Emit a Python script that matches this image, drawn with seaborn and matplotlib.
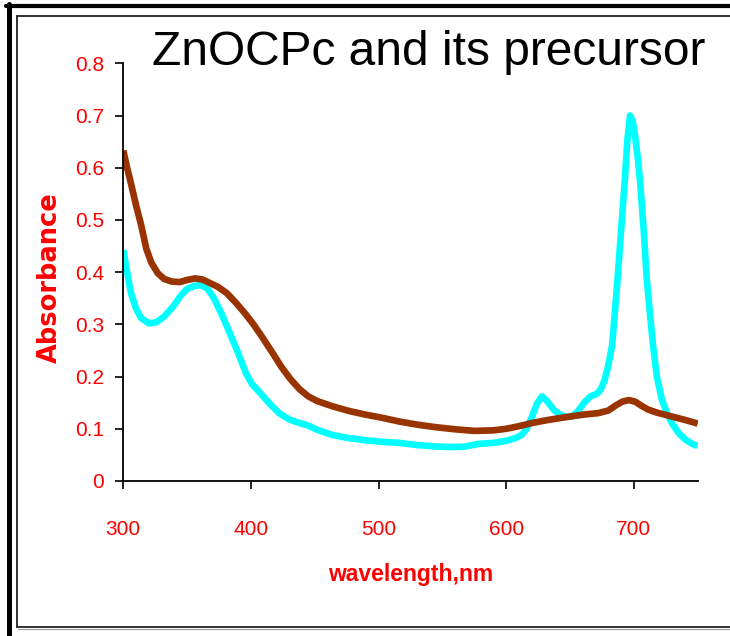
import numpy as np
import pandas as pd
import matplotlib
matplotlib.use('Agg')
import matplotlib.pyplot as plt
from matplotlib.lines import Line2D
import seaborn as sns

sns.set_style('white')
plt.rcParams['font.family'] = ['Liberation Sans', 'DejaVu Sans']

#~~~~~~~~~~~~~~~~~~~~~~~~~~~~~~~~~~~~~~~~~~#
### Data.
#~~~~~~~~~~~~~~~~~~~~~~~~~~~~~~~~~~~~~~~~~~#

## ZnOCPc (cyan).
zn_wl = [300, 303, 306, 310, 314, 320, 326, 332, 339, 345, 350, 356, 361, 366, 371, 377,
         384, 390, 396, 401, 406, 414, 422, 430, 438, 445, 452, 464, 477, 490, 503, 516,
         530, 545, 558, 568, 578, 590, 600, 607, 612, 616, 620, 624, 628, 632, 637, 642,
         647, 651, 656, 661, 666, 671, 674, 677, 680, 683, 687, 690, 693, 695, 697, 699,
         701, 703, 705, 708, 710, 713, 715, 718, 722, 726, 730, 735, 740, 745, 750]
zn_abs = [0.442, 0.40, 0.36, 0.33, 0.312, 0.302, 0.304, 0.315, 0.334, 0.355, 0.368, 0.374, 0.375, 0.368, 0.35, 0.32,
          0.28, 0.245, 0.207, 0.185, 0.172, 0.15, 0.13, 0.118, 0.111, 0.106, 0.098, 0.088, 0.082, 0.078, 0.075, 0.073,
          0.069, 0.066, 0.065, 0.066, 0.071, 0.073, 0.077, 0.082, 0.088, 0.100, 0.122, 0.148, 0.162, 0.153, 0.137, 0.127,
          0.123, 0.123, 0.133, 0.150, 0.162, 0.167, 0.175, 0.193, 0.222, 0.26, 0.38, 0.48, 0.58, 0.655, 0.70, 0.69,
          0.66, 0.62, 0.57, 0.47, 0.39, 0.31, 0.26, 0.20, 0.155, 0.13, 0.11, 0.092, 0.08, 0.072, 0.067]

## Precursor (brown).
pre_wl = [300, 303, 306, 310, 314, 318, 322, 327, 332, 338, 344, 350, 356, 362, 368, 374,
          381, 388, 395, 402, 409, 417, 424, 431, 438, 445, 452, 464, 477, 490, 503, 516,
          530, 545, 560, 575, 590, 600, 610, 620, 633, 646, 660, 672, 680, 686, 691, 696,
          701, 706, 711, 718, 729, 740, 750]
pre_abs = [0.633, 0.60, 0.57, 0.528, 0.49, 0.445, 0.418, 0.398, 0.387, 0.382, 0.381, 0.385, 0.388, 0.386, 0.379, 0.372,
           0.36, 0.342, 0.322, 0.30, 0.275, 0.245, 0.218, 0.195, 0.176, 0.162, 0.153, 0.143, 0.134, 0.127, 0.121, 0.114,
           0.108, 0.103, 0.099, 0.096, 0.097, 0.100, 0.105, 0.111, 0.117, 0.122, 0.127, 0.130, 0.135, 0.145, 0.152, 0.155,
           0.152, 0.144, 0.137, 0.131, 0.124, 0.117, 0.110]

samples = ['ZnOCPc', 'precursor']
palette = {'ZnOCPc': '#00FFFF', 'precursor': '#993300'}

xticks = [300, 400, 500, 600, 700]
yticks = [0, 0.1, 0.2, 0.3, 0.4, 0.5, 0.6, 0.7, 0.8]
ytick_labels = ['0', '0.1', '0.2', '0.3', '0.4', '0.5', '0.6', '0.7', '0.8']

df = pd.concat([pd.DataFrame({'wavelength': zn_wl, 'absorbance': zn_abs, 'sample': 'ZnOCPc'}),
                pd.DataFrame({'wavelength': pre_wl, 'absorbance': pre_abs, 'sample': 'precursor'})],
               ignore_index=True)

red = '#FF0000'

#~~~~~~~~~~~~~~~~~~~~~~~~~~~~~~~~~~~~~~~~~~#
### Canvas.
#~~~~~~~~~~~~~~~~~~~~~~~~~~~~~~~~~~~~~~~~~~#

fig = plt.figure(figsize=(7.3, 6.36), dpi=100)
W, H = 730., 636.
ax = fig.add_axes([123.3/W, 1-481/H, (697.7-123.3)/W, (481-63.3)/H])

## Spectra.
sns.lineplot(data=df, x='wavelength', y='absorbance', hue='sample', hue_order=samples,
             palette=palette, lw=4.8, legend=False, sort=False, estimator=None, ax=ax,
             solid_joinstyle='round', solid_capstyle='butt')

## Axes.
ax.set(xlim=(300, 750), ylim=(0, 0.8), xticks=xticks, yticks=yticks)
ax.set_xticklabels([str(t) for t in xticks], color=red, fontsize=15)
ax.set_yticklabels(ytick_labels, color=red, fontsize=15)
ax.tick_params(axis='both', direction='out', length=6, width=1.2, color='black',
               bottom=True, left=True)
ax.tick_params(axis='y', pad=8)
ax.tick_params(axis='x', pad=22)
sns.despine(ax=ax, top=True, right=True)
for s in ['left', 'bottom']:
    ax.spines[s].set(linewidth=1.3, color='black')

ax.set_xlabel('wavelength,nm', color=red, fontsize=16.5, fontweight='bold')
ax.xaxis.set_label_coords(0.5, -0.197)
ax.set_ylabel('Absorbance', color=red, fontsize=18.5, fontweight='bold', family='DejaVu Sans')
ax.yaxis.set_label_coords(-0.105, 0.487)

## Title.
fig.text(152/W, 1-65/H, 'ZnOCPc and its precursor', ha='left', va='baseline',
         fontsize=34.5, color='black')

## Frame.
fig.add_artist(Line2D([8.5/W, 8.5/W], [0, 1-4/H], lw=3.6, color='black', transform=fig.transFigure))
fig.add_artist(Line2D([6/W, 1], [1-6/H, 1-6/H], lw=3.0, color='black', transform=fig.transFigure))
fig.add_artist(Line2D([16.5/W, 16.5/W], [1-16/H, 1-627/H], lw=1.3, color='#222222', transform=fig.transFigure))
fig.add_artist(Line2D([16.5/W, 1], [1-16/H, 1-16/H], lw=1.3, color='#222222', transform=fig.transFigure))
fig.add_artist(Line2D([16.5/W, 1], [1-627/H, 1-627/H], lw=1.3, color='#222222', transform=fig.transFigure))
fig.add_artist(Line2D([17.5/W, 1], [1-629/H, 1-629/H], lw=0.8, color='#999999', transform=fig.transFigure))

plt.savefig('out.png', dpi=100)
